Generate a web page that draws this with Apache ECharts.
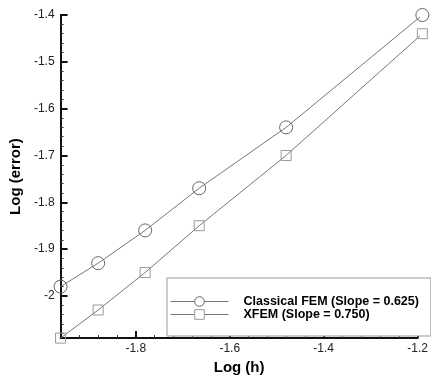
<!DOCTYPE html>
<html>
<head>
<meta charset="utf-8">
<script src="https://cdn.jsdelivr.net/npm/echarts@6/dist/echarts.min.js"></script>
<style>
  html, body { margin: 0; padding: 0; background: #fff; }
  #chart { width: 431px; height: 380px; }
</style>
</head>
<body>
<div id="chart"></div>
<script>
// Convergence data: log of mesh size vs log of error
const logH = [-1.96, -1.88, -1.78, -1.665, -1.48, -1.19];
const classicalFem = [-1.98, -1.93, -1.86, -1.77, -1.64, -1.40];
const xfem = [-2.09, -2.03, -1.95, -1.85, -1.70, -1.44];
const seriesNames = ['Classical FEM (Slope = 0.625)', 'XFEM (Slope = 0.750)'];

const pairs = (xs, ys) => xs.map((x, i) => [x, ys[i]]);

const axisCommon = {
  axisLine: { show: true, lineStyle: { color: '#111', width: 2 } },
  axisTick: { show: true, inside: true, length: 7, lineStyle: { color: '#111', width: 2 } },
  minorTick: { show: true, splitNumber: 5, length: 3, lineStyle: { color: '#333', width: 1 } },
  splitLine: { show: false },
  axisLabel: {
    color: '#222', fontFamily: 'Liberation Sans, Arial, sans-serif', fontSize: 12,
    showMinLabel: false
  },
  nameTextStyle: {
    color: '#000', fontFamily: 'Liberation Sans, Arial, sans-serif', fontSize: 15, fontWeight: 'bold'
  },
  nameLocation: 'middle'
};

const chart = echarts.init(document.getElementById('chart'), null, { renderer: 'canvas' });
chart.setOption({
  animation: false,
  backgroundColor: '#fff',
  grid: { left: 60, right: 13, top: 15, bottom: 35, containLabel: false },
  xAxis: Object.assign({}, axisCommon, {
    type: 'value', min: -1.96, max: -1.2, splitNumber: 4,
    name: 'Log (h)', nameGap: 13,
    axisLabel: Object.assign({}, axisCommon.axisLabel, { margin: 5 })
  }),
  yAxis: Object.assign({}, axisCommon, {
    type: 'value', min: -2.09, max: -1.4, splitNumber: 7,
    name: 'Log (error)', nameGap: 37,
    axisLabel: Object.assign({}, axisCommon.axisLabel, { margin: 6 })
  }),
  legend: {
    orient: 'vertical',
    left: 167, top: 278,
    padding: [17, 12, 15, 3],
    itemWidth: 58, itemHeight: 12, itemGap: 0,
    backgroundColor: '#fff',
    borderColor: '#999', borderWidth: 1, borderRadius: 0,
    textStyle: {
      color: '#000', fontFamily: 'Liberation Sans, Arial, sans-serif',
      fontSize: 12.5, fontWeight: 'bold', lineHeight: 12, padding: [0, 0, 0, 10]
    },
    data: [
      {
        name: seriesNames[0],
        lineStyle: { color: '#777', width: 1 },
        itemStyle: { color: '#fff', borderColor: '#666', borderWidth: 1 }
      },
      {
        name: seriesNames[1],
        lineStyle: { color: '#777', width: 1 },
        itemStyle: { color: '#fff', borderColor: '#999', borderWidth: 1 }
      }
    ]
  },
  series: [
    {
      name: seriesNames[0], type: 'line', clip: false,
      data: pairs(logH, classicalFem),
      symbol: 'circle', symbolSize: 13,
      lineStyle: { color: '#777', width: 1 },
      itemStyle: { color: 'rgba(255,255,255,0)', borderColor: '#666', borderWidth: 1 }
    },
    {
      name: seriesNames[1], type: 'line', clip: false,
      data: pairs(logH, xfem),
      symbol: 'rect', symbolSize: 10,
      lineStyle: { color: '#777', width: 1 },
      itemStyle: { color: 'rgba(255,255,255,0)', borderColor: '#999', borderWidth: 1 }
    }
  ]
});
</script>
</body>
</html>
